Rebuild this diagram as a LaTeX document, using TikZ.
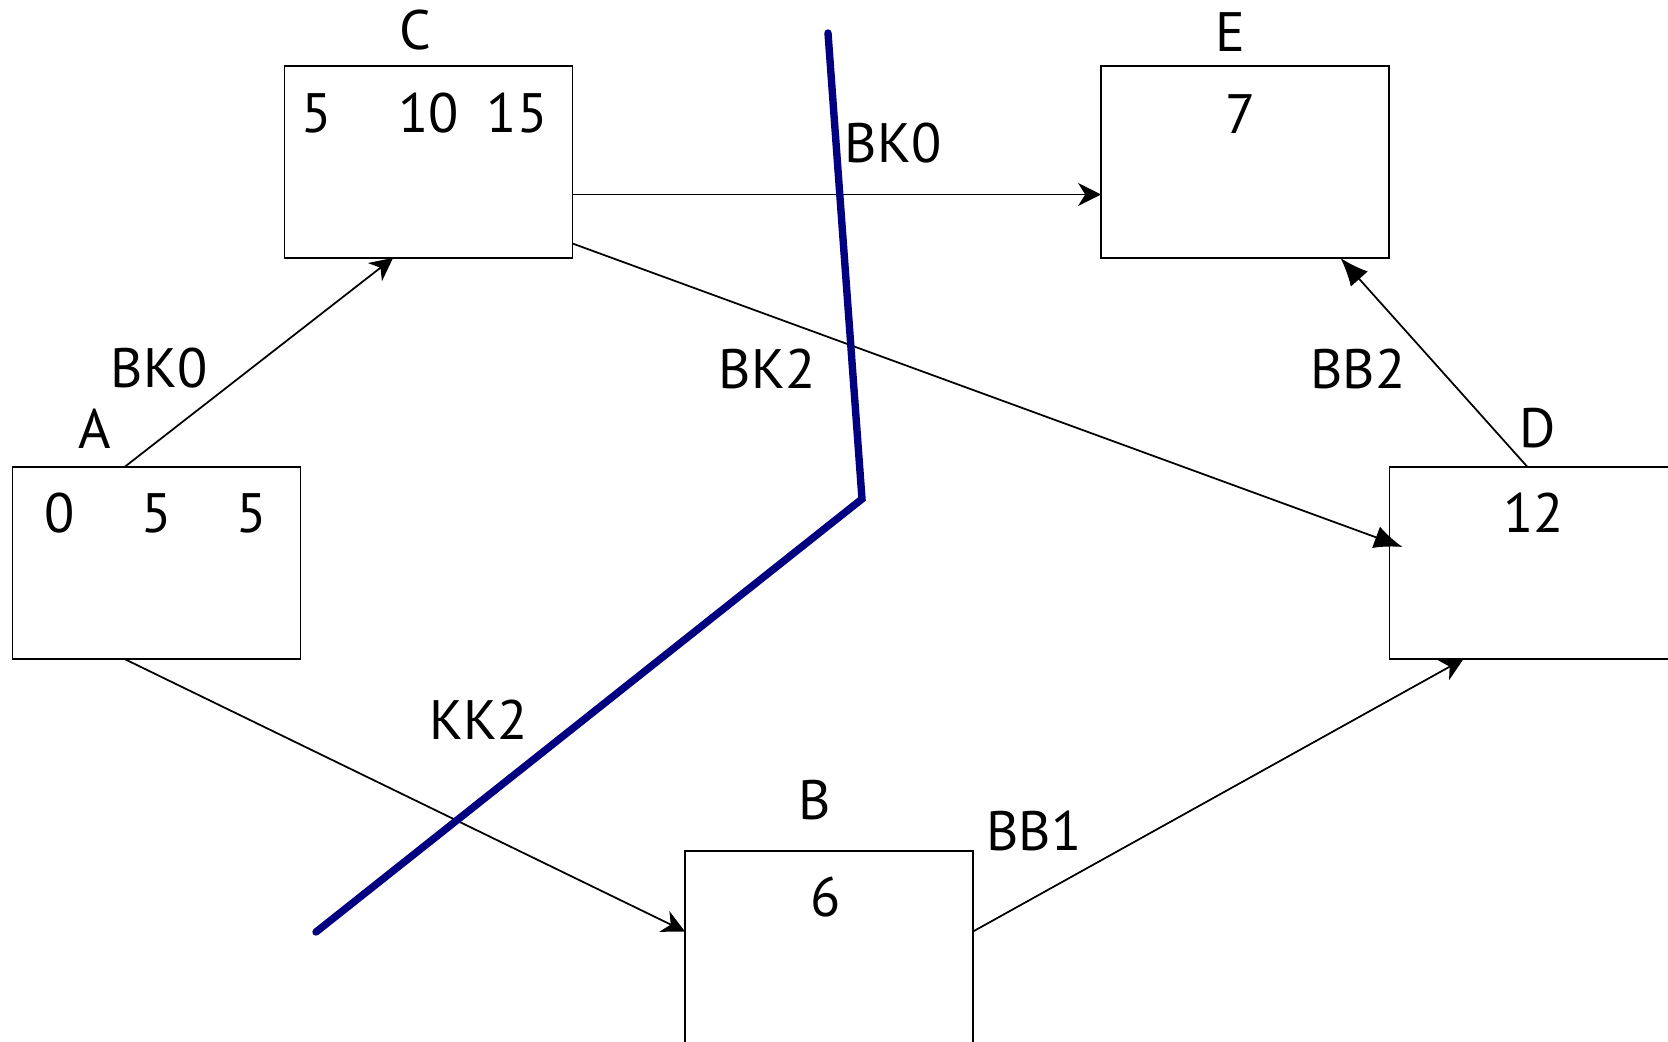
\documentclass[tikz,border=0pt]{standalone}
\usepackage{fontspec}
\setmainfont{PT Sans}
\usepackage{tikz}
\usetikzlibrary{positioning,arrows.meta}

\begin{document}
\begin{tikzpicture}[on grid,
  every node/.style = {font=\fontsize{15.8}{19}\selectfont, inner sep=0pt},
  box/.style = {draw, line width=0.55pt, minimum width=2.88cm, minimum height=1.92cm, outer sep=0pt},
  st/.style = {-{Stealth[length=6.5pt,width=6.5pt,inset=2pt]}, line width=0.5pt},
  tri/.style = {-{Latex[length=8pt,width=6.5pt]}, line width=0.5pt},
  cut/.style = {draw=cutblue, line width=2.1pt, line cap=round}]
\definecolor{cutblue}{RGB}{0,0,128}
\useasboundingbox (0,0) rectangle (16.68,10.41);

\node[box] (A) at (1.565,4.78) {};
\node[box] (C) [above right=4.01cm and 2.72cm of A] {};
\node[box] (E) [right=8.165cm of C] {};
\node[box] (D) [right=13.77cm of A] {};
\node[box] (B) [below right=3.84cm and 6.725cm of A] {};

% names above the boxes
\node (nA) at ([xshift=-6.15mm,yshift=3.8mm]A.north) {A};
\node (nC) at ([xshift=-1.35mm,yshift=3.6mm]C.north) {C};
\node (nE) at ([xshift=-1.5mm,yshift=3.4mm]E.north) {E};
\node (nD) at ([xshift=0.45mm,yshift=3.9mm]D.north) {D};
\node (nB) at ([xshift=-1.4mm,yshift=5.1mm]B.north) {B};

% values
\node (A1) at ([xshift=-9.7mm,yshift=5mm]A.center) {0};
\node (A2) at ([yshift=5mm]A.center) {5};
\node (A3) at ([xshift=9.5mm,yshift=5mm]A.center) {5};
\node (C1) at ([xshift=-11.15mm,yshift=4.9mm]C.center) {5};
\node (C2) at ([yshift=4.9mm]C.center) {10};
\node (C3) at ([xshift=8.85mm,yshift=4.9mm]C.center) {15};
\node (E1) at ([xshift=-0.4mm,yshift=4.8mm]E.center) {7};
\node (D1) at ([yshift=5mm]D.center) {12};
\node (B1) at ([xshift=-0.3mm,yshift=4.95mm]B.center) {6};

\draw[st] ([xshift=-3.2mm]A.north) -- ([xshift=-3.55mm]C.south);
\draw[st] ([yshift=-3.25mm]C.east) -- ([yshift=-3.25mm]E.west);
\draw[tri] ([yshift=-8.15mm]C.east) -- ([xshift=1.3mm,yshift=1.6mm]D.west);
\draw[st] ([xshift=-3.2mm]A.south) -- ([yshift=1.55mm]B.west);
\draw[st] ([yshift=1.55mm]B.east) -- ([xshift=-7mm]D.south);
\draw[tri] ([xshift=-0.6mm]D.north) -- ([xshift=9.55mm]E.south);

% edge labels
\node (ac) at (1.59,6.73) {BK0};
\node (ce) at (8.93,8.98) {BK0};
\node (cd) at (7.67,6.72) {BK2};
\node (de) at (13.58,6.72) {BB2};
\node (ab) at (4.79,3.21) {KK2};
\node (bd) at (10.34,2.10) {BB1};

\draw[cut] (8.28,10.08) -- (8.62,5.42) -- (3.16,1.09);
\end{tikzpicture}
\end{document}
